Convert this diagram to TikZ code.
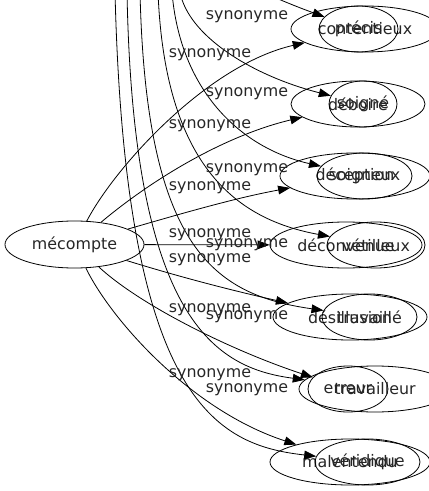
\documentclass[tikz,border=0pt]{standalone}
\usepackage{fontspec}
\setmainfont{DejaVu Sans}
\usetikzlibrary{shapes.geometric,arrows.meta}
\begin{document}
\begin{tikzpicture}[x=0.75pt,y=-0.75pt,
  every node/.style={font=\fontsize{11.9pt}{14pt}\selectfont, text=black!85},
  ell/.style 2 args={ellipse, draw, line width=0.6pt, minimum width=#1*1.5pt, minimum height=#2*1.5pt, inner sep=0pt},
  edge/.style={draw, line width=0.6pt, -{Triangle[length=9pt,width=6.5pt]}},
  lbl/.style={inner sep=0pt}]
\useasboundingbox (0,0) rectangle (428,491);
% hub
\node[ell={69.5}{23.5}, label=center:mécompte] (m) at (74.5,244.5) {};
% first family
\node[ell={74}{23}, label=center:contentieux] (r1a) at (365,29) {};
\node[ell={67}{23}, label=center:déboire] (r2a) at (358,104) {};
\node[ell={75}{23}, label=center:déception] (r3a) at (355,176) {};
\node[ell={76}{23}, label=center:déconvenue] (r4a) at (346,245) {};
\node[ell={77}{23}, label=center:désillusion] (r5a) at (350,317) {};
\node[ell={40}{23}, label=center:erreur] (r6a) at (348,389) {};
\node[ell={80}{23}, label=center:malentendu] (r7a) at (350,462) {};
% second family
\node[ell={39.5}{23}, label=center:précis] (r1b) at (358.5,29) {};
\node[ell={34}{23}, label=center:soigné] (r2b) at (363,104) {};
\node[ell={47.5}{23}, label=center:soigneux] (r3b) at (364.5,176) {};
\node[ell={49}{23}, label=center:vétilleux] (r4b) at (376,245) {};
\node[ell={47.5}{23}, label=center:travaillé] (r5b) at (369.5,317) {};
\node[ell={76}{23}, label=center:travailleur] (r6b) at (375,389) {};
\node[ell={52.5}{23}, label=center:véridique] (r7b) at (367.5,462) {};
% free ends of the second family (hub above the picture)
\coordinate (h1) at (262,-8);
\coordinate (h2) at (180,-8);
\coordinate (h3) at (172,-8);
\coordinate (h4) at (158,-8);
\coordinate (h5) at (140,-8);
\coordinate (h6) at (127,-8);
\coordinate (h7) at (115,-8);
% edges of the first family
\draw[edge] (m) .. controls (115,167) and (207,65) .. (r1a);
\draw[edge] (m) .. controls (155,177) and (227,135) .. (r2a);
\draw[edge] (m) .. controls (180,214) and (235,198) .. (r3a);
\draw[edge] (m) -- (r4a);
\draw[edge] (m) .. controls (180,277) and (230,290) .. (r5a);
\draw[edge] (m) .. controls (140,305) and (230,350) .. (r6a);
\draw[edge] (m) .. controls (110,318) and (190,410) .. (r7a);
% edges of the second family
\draw[edge] (h1) .. controls (285,2) and (300,8) .. (r1b);
\draw[edge] (h2) .. controls (188,35) and (250,75) .. (r2b);
\draw[edge] (h3) .. controls (180,90) and (240,148) .. (r3b);
\draw[edge] (h4) .. controls (165,170) and (240,220) .. (r4b);
\draw[edge] (h5) .. controls (146,250) and (215,295) .. (r5b);
\draw[edge] (h6) .. controls (133,320) and (215,368) .. (r6b);
\draw[edge] (h7) .. controls (125,400) and (215,445) .. (r7b);
% labels
\node[lbl] (la1) at (210,55) {synonyme};
\node[lbl] (la2) at (210,126) {synonyme};
\node[lbl] (la3) at (210,188) {synonyme};
\node[lbl] (la4) at (210,235) {synonyme};
\node[lbl] (la5) at (210,260) {synonyme};
\node[lbl] (la6) at (210,310) {synonyme};
\node[lbl] (la7) at (210,375) {synonyme};
\node[lbl] (lb1) at (247,17) {synonyme};
\node[lbl] (lb2) at (247,94) {synonyme};
\node[lbl] (lb3) at (247,170) {synonyme};
\node[lbl] (lb4) at (247,245) {synonyme};
\node[lbl] (lb5) at (247,317) {synonyme};
\node[lbl] (lb6) at (247,390) {synonyme};
\end{tikzpicture}
\end{document}
